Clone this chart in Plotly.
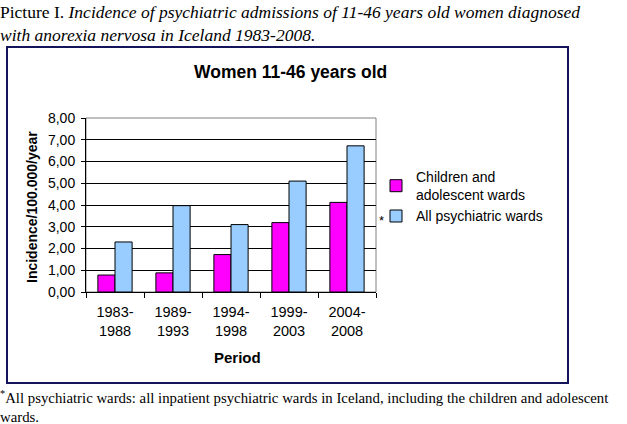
import plotly.graph_objects as go

periods = ["1983-<br>1988", "1989-<br>1993", "1994-<br>1998", "1999-<br>2003", "2004-<br>2008"]
children_wards = [0.78, 0.88, 1.72, 3.19, 4.12]
all_wards = [2.30, 3.97, 3.10, 5.10, 6.72]
y_ticks = [0, 1, 2, 3, 4, 5, 6, 7, 8]

SANS = "Liberation Sans, Arial, sans-serif"
SERIF = "Liberation Serif, Times New Roman, serif"

# plot area in pixels: x 86..376, y 118..292
L, R, T, B = 86, 376, 118, 292


def px(x):
    return (x - L) / (R - L)


def py(y):
    return (B - y) / (B - T)


fig = go.Figure()
fig.add_trace(go.Bar(x=periods, y=children_wards, name="Children and<br>adolescent wards",
                     marker=dict(color="#ff00ff", line=dict(color="#000000", width=1))))
fig.add_trace(go.Bar(x=periods, y=all_wards, name="All psychiatric wards",
                     marker=dict(color="#99ccff", line=dict(color="#000000", width=1))))

fig.update_layout(
    width=627, height=424,
    margin=dict(l=L, r=627 - R, t=T, b=424 - B, pad=0),
    paper_bgcolor="white", plot_bgcolor="white",
    separators=",.",
    barmode="group", bargap=0.41, bargroupgap=0,
    font=dict(family=SANS, size=14, color="black"),
    legend=dict(x=px(376), y=py(161), xanchor="left", yanchor="top",
                font=dict(family=SANS, size=14), bgcolor="rgba(0,0,0,0)",
                itemwidth=30),
    showlegend=True,
)
fig.update_yaxes(range=[0, 8], tickvals=y_ticks, tickformat=".2f", showgrid=True,
                 gridcolor="#000000", gridwidth=1, showline=True, linecolor="#000000",
                 ticks="outside", ticklen=4, tickcolor="#000000", zeroline=False,
                 ticklabelstandoff=3, tickfont=dict(family=SANS, size=14))
fig.update_xaxes(showline=True, linecolor="#000000", ticks="outside", ticklen=5,
                 tickcolor="#000000", tickson="boundaries", ticklabelstandoff=7,
                 tickfont=dict(family=SANS, size=14.5))

shapes = [
    dict(type="rect", xref="paper", yref="paper", x0=0, x1=1, y0=0, y1=1,
         line=dict(color="#808080", width=1), layer="below"),
    dict(type="rect", xref="paper", yref="paper", x0=px(7), x1=px(568), y0=py(383), y1=py(47),
         line=dict(color="#14145a", width=2)),
]
fig.update_layout(shapes=shapes)


def label(text, x, y, size, **kw):
    return dict(text=text, xref="paper", yref="paper", x=px(x), y=py(y),
                xanchor="center", yanchor="middle", showarrow=False,
                font=dict(family=SANS, size=size), **kw)


annotations = [
    label("<b>Women 11-46 years old</b>", 290, 72, 17.5),
    label("<b>Incidence/100.000/year</b>", 32, 207, 14, textangle=-90),
    label("<b>Period</b>", 237, 357, 15),
    label("*", 381, 220, 13),
    dict(text="Picture I. <i>Incidence of psychiatric admissions of 11-46 years old women diagnosed</i>"
              "<br><i>with anorexia nervosa in Iceland 1983-2008.</i>",
         xref="paper", yref="paper", x=px(-2), y=py(0), xanchor="left", yanchor="top", align="left",
         showarrow=False, font=dict(family=SERIF, size=17.5)),
    dict(text="<sup>*</sup>All psychiatric wards: all inpatient psychiatric wards in Iceland, "
              "including the children and adolescent<br>wards.",
         xref="paper", yref="paper", x=px(-2), y=py(386), xanchor="left", yanchor="top", align="left",
         showarrow=False, font=dict(family=SERIF, size=14.8)),
]
fig.update_layout(annotations=annotations)

fig.write_html("out.html", config={"displayModeBar": False},
               post_script="document.body.style.margin='0';")
